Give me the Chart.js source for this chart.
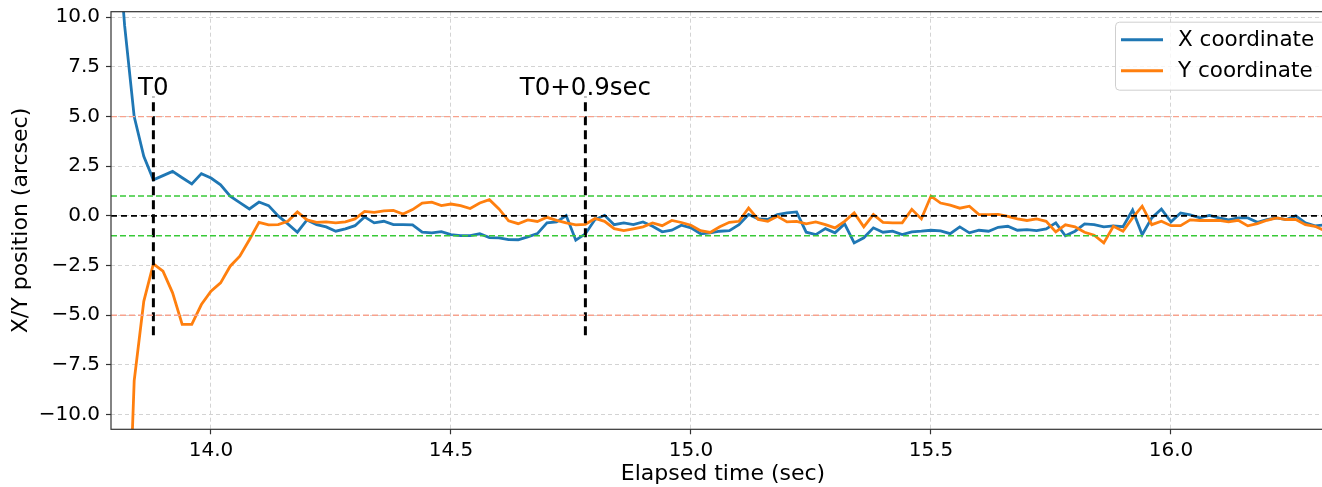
<!DOCTYPE html>
<html>
<head>
<meta charset="utf-8">
<script src="https://cdn.jsdelivr.net/npm/chart.js@4.4.1/dist/chart.umd.min.js"></script>
<style>
  html, body { margin: 0; padding: 0; background: #fff; overflow: hidden; }
  #wrap { position: relative; width: 1345px; height: 487px; }
</style>
</head>
<body>
<div id="wrap"><canvas id="chart" width="1345" height="487"></canvas></div>
<script>
// sample times (sec)
const times = [
  13.80, 13.82, 13.84, 13.86, 13.88, 13.90, 13.92, 13.94, 13.96, 13.98,
  14.00, 14.02, 14.04, 14.06, 14.08, 14.10, 14.12, 14.14, 14.16, 14.18,
  14.20, 14.22, 14.24, 14.26, 14.28, 14.30, 14.32, 14.34, 14.36, 14.38,
  14.40, 14.42, 14.44, 14.46, 14.48, 14.50, 14.52, 14.54, 14.56, 14.58,
  14.60, 14.62, 14.64, 14.66, 14.68, 14.70, 14.72, 14.74, 14.76, 14.78,
  14.80, 14.82, 14.84, 14.86, 14.88, 14.90, 14.92, 14.94, 14.96, 14.98,
  15.00, 15.02, 15.04, 15.06, 15.08, 15.10, 15.12, 15.14, 15.16, 15.18,
  15.20, 15.22, 15.24, 15.26, 15.28, 15.30, 15.32, 15.34, 15.36, 15.38,
  15.40, 15.42, 15.44, 15.46, 15.48, 15.50, 15.52, 15.54, 15.56, 15.58,
  15.60, 15.62, 15.64, 15.66, 15.68, 15.70, 15.72, 15.74, 15.76, 15.78,
  15.80, 15.82, 15.84, 15.86, 15.88, 15.90, 15.92, 15.94, 15.96, 15.98,
  16.00, 16.02, 16.04, 16.06, 16.08, 16.10, 16.12, 16.14, 16.16, 16.18,
  16.20, 16.22, 16.24, 16.26, 16.28, 16.30, 16.32, 16.34
];

// X coordinate (arcsec)
const xPos = [
  16, 9.6, 5.0, 3.0, 1.82, 2.03, 2.24, 1.92, 1.61, 2.13,
  1.91, 1.57, 0.99, 0.67, 0.35, 0.70, 0.52, 0.0, -0.4, -0.82,
  -0.2, -0.44, -0.55, -0.77, -0.65, -0.49, -0.05, -0.35, -0.27, -0.44,
  -0.44, -0.45, -0.82, -0.85, -0.79, -0.94, -0.99, -0.99, -0.9, -1.09,
  -1.1, -1.19, -1.2, -1.05, -0.89, -0.35, -0.3, 0.02, -1.22, -0.9,
  -0.18, 0.03, -0.44, -0.35, -0.44, -0.3, -0.52, -0.8, -0.72, -0.47,
  -0.6, -0.9, -0.85, -0.77, -0.74, -0.44, 0.07, -0.15, -0.18, 0.07,
  0.15, 0.2, -0.82, -0.94, -0.64, -0.85, -0.4, -1.36, -1.1, -0.6,
  -0.82, -0.77, -0.94, -0.8, -0.77, -0.72, -0.75, -0.89, -0.55, -0.85,
  -0.72, -0.77, -0.57, -0.52, -0.72, -0.69, -0.74, -0.65, -0.35, -1.0,
  -0.77, -0.4, -0.44, -0.55, -0.5, -0.54, 0.3, -0.95, -0.1, 0.35,
  -0.3, 0.15, 0.05, -0.1, 0.03, -0.1, -0.2, -0.1, -0.1, -0.32,
  -0.18, -0.1, -0.18, 0.0, -0.35, -0.5, -0.45, -0.55
];

// Y coordinate (arcsec)
const yPos = [
  -30, -21.8, -8.3, -4.3, -2.41, -2.78, -3.87, -5.46, -5.46, -4.46,
  -3.79, -3.37, -2.53, -2.03, -1.2, -0.32, -0.45, -0.44, -0.27, 0.2,
  -0.2, -0.32, -0.3, -0.35, -0.3, -0.15, 0.23, 0.18, 0.25, 0.28,
  0.1, 0.32, 0.65, 0.69, 0.52, 0.6, 0.52, 0.37, 0.65, 0.82,
  0.35, -0.25, -0.39, -0.2, -0.28, -0.07, -0.22, -0.35, -0.45, -0.42,
  -0.13, -0.27, -0.64, -0.74, -0.65, -0.55, -0.35, -0.49, -0.23, -0.33,
  -0.47, -0.74, -0.83, -0.55, -0.32, -0.27, 0.4, -0.18, -0.27, -0.02,
  -0.3, -0.27, -0.4, -0.3, -0.44, -0.6, -0.27, 0.15, -0.55, 0.07,
  -0.32, -0.35, -0.35, 0.33, -0.15, 1.0, 0.65, 0.54, 0.39, 0.49,
  0.07, 0.07, 0.08, -0.02, -0.15, -0.23, -0.15, -0.27, -0.8, -0.45,
  -0.55, -0.82, -0.97, -1.36, -0.52, -0.77, -0.1, 0.49, -0.44, -0.27,
  -0.49, -0.49, -0.2, -0.23, -0.23, -0.22, -0.3, -0.22, -0.5, -0.39,
  -0.22, -0.1, -0.18, -0.18, -0.44, -0.52, -0.74, -0.9
];

const xTicks = [14.0, 14.5, 15.0, 15.5, 16.0];
const yTicks = [-10, -7.5, -5, -2.5, 0, 2.5, 5, 7.5, 10];

const markerTimes = [13.88, 14.78];
const markerLabels = ['T0', 'T0+0.9sec'];
const markerSpan = [-6, 6];
const outerLimits = [5, -5];
const innerLimits = [1, -1];
const zeroLevel = [0];

const xRange = [13.7917, 16.3417];
const yRange = [-10.74, 10.28];

Chart.defaults.font.family = 'DejaVu Sans';
Chart.defaults.color = '#000';

function hline(level, color, width, dash) {
  return {
    label: '', data: [{ x: xRange[0], y: level }, { x: xRange[1], y: level }],
    borderColor: color, borderWidth: width, borderDash: dash,
    pointRadius: 0, order: 0, clip: 0
  };
}

function vline(t) {
  return {
    label: '', data: [{ x: t, y: markerSpan[0] }, { x: t, y: markerSpan[1] }],
    borderColor: '#000', borderWidth: 3, borderDash: [9, 5],
    pointRadius: 0, order: 0, clip: 0
  };
}

const refSets = [
  ...outerLimits.map(v => hline(v, '#f7a28d', 1.3, [6, 3])),
  ...innerLimits.map(v => hline(v, '#38c938', 1.5, [6, 3])),
  ...zeroLevel.map(v => hline(v, '#000', 1.8, [6, 4])),
  ...markerTimes.map(vline)
];

const legendBox = {
  id: 'legendBox',
  afterDraw(chart) {
    const ctx = chart.ctx;
    const area = chart.chartArea;
    const items = chart.data.datasets.filter(d => d.label);
    const left = 1115, top = area.top + 10, right = area.right - 10, rowH = 31;
    const bottom = top + 16 + rowH * items.length - 10;
    ctx.save();
    ctx.beginPath();
    ctx.roundRect(left + 0.5, top + 0.5, right - left, bottom - top, 4);
    ctx.fillStyle = 'rgba(255,255,255,0.8)';
    ctx.fill();
    ctx.strokeStyle = '#cfcfcf';
    ctx.lineWidth = 1;
    ctx.stroke();
    ctx.font = '21.5px "DejaVu Sans"';
    ctx.textBaseline = 'middle';
    items.forEach((d, i) => {
      const y = top + 18 + i * rowH;
      ctx.beginPath();
      ctx.moveTo(left + 6, y);
      ctx.lineTo(left + 48, y);
      ctx.strokeStyle = d.borderColor;
      ctx.lineWidth = 3;
      ctx.stroke();
      ctx.fillStyle = '#000';
      ctx.fillText(d.label, left + 63, y + 1);
    });
    ctx.restore();
  }
};

const frameAndLabels = {
  id: 'frameAndLabels',
  afterDatasetsDraw(chart) {
    const ctx = chart.ctx;
    const a = chart.chartArea;
    const xs = chart.scales.x, ys = chart.scales.y;
    ctx.save();
    ctx.strokeStyle = '#333';
    ctx.lineWidth = 1.2;
    ctx.strokeRect(a.left, a.top, a.right - a.left, a.bottom - a.top);
    ctx.font = '24.5px "DejaVu Sans"';
    ctx.fillStyle = '#000';
    ctx.textAlign = 'center';
    ctx.textBaseline = 'alphabetic';
    markerTimes.forEach((t, i) => {
      ctx.fillText(markerLabels[i], xs.getPixelForValue(t), ys.getPixelForValue(markerSpan[1]) - 2);
    });
    ctx.restore();
  }
};

new Chart(document.getElementById('chart'), {
  type: 'line',
  data: {
    datasets: [
      ...refSets,
      {
        label: 'X coordinate',
        data: times.map((t, i) => ({ x: t, y: xPos[i] })),
        borderColor: '#1f77b4', borderWidth: 2.8, pointRadius: 0, order: 2, clip: 0
      },
      {
        label: 'Y coordinate',
        data: times.map((t, i) => ({ x: t, y: yPos[i] })),
        borderColor: '#ff7f0e', borderWidth: 2.8, pointRadius: 0, order: 1, clip: 0
      }
    ]
  },
  options: {
    responsive: false,
    animation: false,
    devicePixelRatio: 1,
    layout: { padding: { top: 11.7, right: 10, left: 0, bottom: 0 } },
    plugins: { legend: { display: false }, tooltip: { enabled: false } },
    elements: { line: { tension: 0 } },
    scales: {
      x: {
        type: 'linear', min: xRange[0], max: xRange[1],
        afterBuildTicks: s => { s.ticks = xTicks.map(v => ({ value: v })); },
        afterFit: s => { s.height = 57.7; s.paddingLeft = 0; s.paddingRight = 0; },
        ticks: { font: { size: 20 }, color: '#000', padding: 4, maxRotation: 0,
                 callback: v => v.toFixed(1) },
        grid: { color: '#d3d3d3', lineWidth: 1, tickColor: '#333', tickLength: 5, tickWidth: 1.2 },
        border: { display: false, dash: [4, 3] },
        title: { display: true, text: 'Elapsed time (sec)', font: { size: 22 }, color: '#000',
                 padding: { top: 0, bottom: 0 } }
      },
      y: {
        min: yRange[0], max: yRange[1],
        afterBuildTicks: s => { s.ticks = yTicks.map(v => ({ value: v })); },
        afterFit: s => { s.width = 111; s.paddingTop = 0; s.paddingBottom = 0; },
        ticks: { font: { size: 20 }, color: '#000', padding: 6,
                 callback: v => v.toFixed(1).replace('-', '\u2212') },
        grid: { color: '#d3d3d3', lineWidth: 1, tickColor: '#333', tickLength: 5, tickWidth: 1.2 },
        border: { display: false, dash: [4, 3] },
        title: { display: true, text: 'X/Y position (arcsec)', font: { size: 22 }, color: '#000',
                 padding: { top: 8, bottom: 0 } }
      }
    }
  },
  plugins: [legendBox, frameAndLabels]
});
</script>
</body>
</html>
